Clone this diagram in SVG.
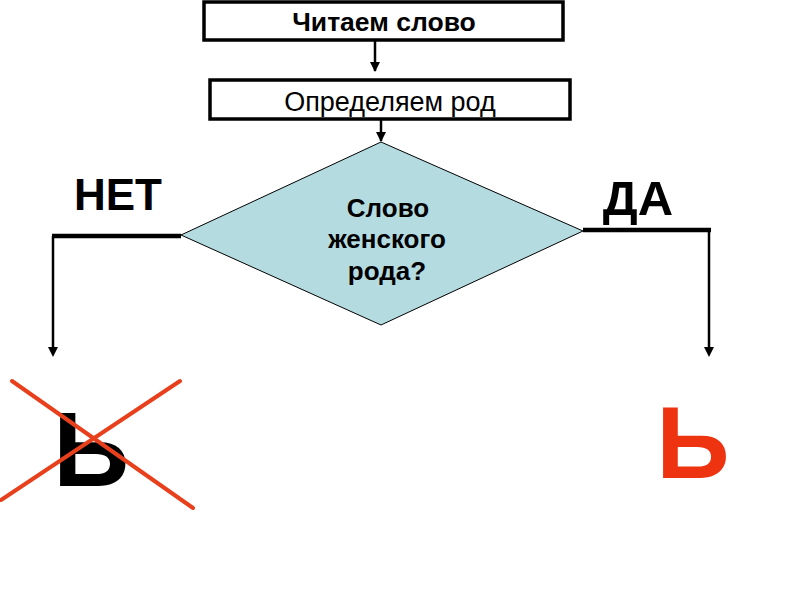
<svg xmlns="http://www.w3.org/2000/svg" width="800" height="600" viewBox="0 0 800 600">
<defs>
<style>
.box{fill:#fff;stroke:#000;stroke-width:3.5}
.t{font-family:"Liberation Sans",Arial,sans-serif;fill:#000;text-anchor:middle}
.b{font-weight:bold}
.ln{stroke:#000;fill:none}
.x{stroke:#e8401c;stroke-width:4;stroke-linecap:round}
</style>
</defs>
<rect width="800" height="600" fill="#fff"/>
<g id="connectors">
<line class="ln" x1="375" y1="41" x2="375" y2="71" stroke-width="2.5"/>
<path d="M370,62 L380,62 L375,72 Z"/>
<line class="ln" x1="381" y1="120" x2="381" y2="141" stroke-width="2.5"/>
<path d="M376,132 L386,132 L381,142 Z"/>
<polyline class="ln" points="181,236 52,236" stroke-width="4.5"/>
<line class="ln" x1="53" y1="236" x2="53" y2="352" stroke-width="2.5"/>
<path d="M48,347 L58,347 L53,357 Z"/>
<polyline class="ln" points="583,230 711,230" stroke-width="4.5"/>
<line class="ln" x1="709" y1="230" x2="709" y2="352" stroke-width="2.5"/>
<path d="M704,347 L714,347 L709,357 Z"/>
</g>
<g id="read">
<rect class="box" x="204" y="2" width="359" height="38"/>
<text class="t b" x="384" y="31" font-size="26.5">Читаем слово</text>
</g>
<g id="define">
<rect class="box" x="210" y="80" width="360" height="39"/>
<text class="t" x="390" y="111" font-size="27">Определяем род</text>
</g>
<g id="decision">
<polygon points="381,142 583,231 381,325 181,235" fill="#b4dce0" stroke="#000" stroke-width="1"/>
<text class="t b" x="388" y="217" font-size="26">Слово</text>
<text class="t b" x="387" y="248" font-size="26">женского</text>
<text class="t b" x="387" y="280" font-size="26">рода?</text>
</g>
<g id="no-label"><text class="t b" x="118" y="210" font-size="44">НЕТ</text></g>
<g id="yes-label"><text class="t b" x="638" y="215" font-size="49">ДА</text></g>
<g id="no-result">
<text class="t b" x="91" y="486" font-size="106">Ь</text>
<line class="x" x1="12" y1="381" x2="193" y2="508"/>
<line class="x" x1="180" y1="381" x2="1" y2="500"/>
</g>
<g id="yes-result">
<text class="t b" x="693" y="478" font-size="102" style="fill:#ee3311">Ь</text>
</g>
</svg>
